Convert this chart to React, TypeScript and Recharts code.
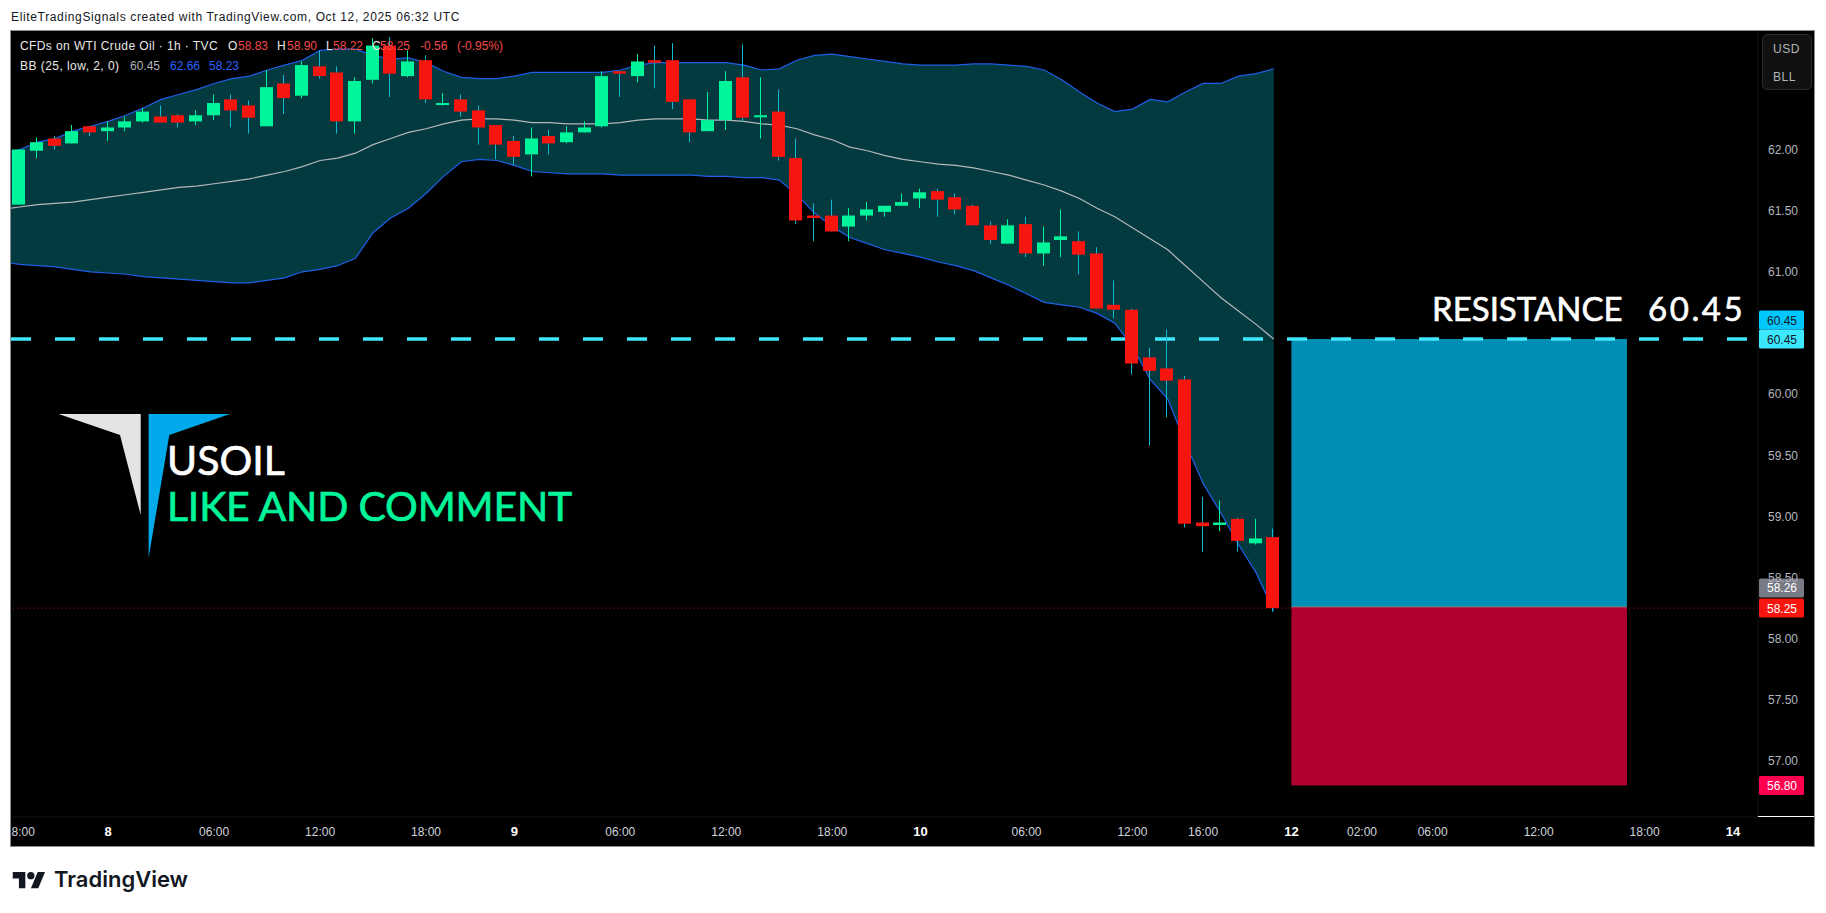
import {
  Area,
  Bar,
  ComposedChart,
  Line,
  ReferenceArea,
  ReferenceDot,
  ReferenceLine,
  XAxis,
  YAxis,
} from 'recharts';

const FONT = '"Liberation Sans", Arial, sans-serif';
const POSTER_FONT = 'Lato, "Noto Sans", sans-serif';

const opens = [
  61.55, 61.99, 62.09, 62.05, 62.19, 62.15, 62.18, 62.23, 62.27, 62.28, 62.23, 62.28,
  62.41, 62.36, 62.19, 62.54, 62.44, 62.68, 62.63, 62.23, 62.57, 62.85, 62.6, 62.73,
  62.37, 62.41, 62.32, 62.2, 62.07, 61.96, 62.11, 62.06, 62.14, 62.19, 62.64, 62.6,
  62.73, 62.73, 62.41, 62.15, 62.24, 62.59, 62.27, 62.31, 61.93, 61.46, 61.46, 61.37,
  61.46, 61.49, 61.54, 61.6, 61.66, 61.61, 61.54, 61.38, 61.23, 61.39, 61.15, 61.26,
  61.25, 61.15, 60.73, 60.69, 60.3, 60.21, 60.12, 58.95, 58.93, 58.98, 58.78, 58.83,
];
const closes = [
  62.0, 62.06, 62.03, 62.15, 62.14, 62.18, 62.23, 62.31, 62.22, 62.22, 62.28, 62.38,
  62.32, 62.26, 62.51, 62.42, 62.69, 62.6, 62.23, 62.56, 62.85, 62.62, 62.72, 62.41,
  62.38, 62.31, 62.18, 62.04, 61.94, 62.09, 62.05, 62.14, 62.18, 62.6, 62.62, 62.72,
  62.71, 62.39, 62.14, 62.24, 62.56, 62.26, 62.28, 61.94, 61.42, 61.44, 61.33, 61.46,
  61.51, 61.54, 61.57, 61.65, 61.59, 61.51, 61.38, 61.26, 61.38, 61.15, 61.24, 61.29,
  61.14, 60.7, 60.69, 60.25, 60.19, 60.11, 58.94, 58.92, 58.95, 58.8, 58.82, 58.25,
];
const highs = [
  62.0, 62.1, 62.11, 62.2, 62.19, 62.23, 62.27, 62.34, 62.36, 62.29, 62.32, 62.45,
  62.45, 62.4, 62.65, 62.61, 62.72, 62.81, 62.68, 62.59, 62.91, 62.92, 62.81, 62.77,
  62.46, 62.45, 62.36, 62.2, 62.11, 62.18, 62.16, 62.19, 62.23, 62.64, 62.64, 62.78,
  62.85, 62.87, 62.41, 62.47, 62.64, 62.86, 62.59, 62.49, 62.09, 61.56, 61.59, 61.52,
  61.57, 61.54, 61.64, 61.68, 61.68, 61.64, 61.55, 61.41, 61.43, 61.45, 61.37, 61.51,
  61.33, 61.2, 60.93, 60.7, 60.38, 60.53, 60.15, 59.16, 59.13, 58.99, 58.98, 58.9,
];
const lows = [
  61.55, 61.93, 62.0, 62.05, 62.11, 62.07, 62.15, 62.22, 62.22, 62.18, 62.2, 62.24,
  62.18, 62.13, 62.23, 62.29, 62.42, 62.58, 62.13, 62.13, 62.54, 62.43, 62.59, 62.38,
  62.36, 62.27, 62.04, 61.92, 61.87, 61.78, 61.96, 62.05, 62.14, 62.18, 62.43, 62.55,
  62.5, 62.33, 62.06, 62.15, 62.16, 62.23, 62.09, 61.91, 61.39, 61.25, 61.33, 61.25,
  61.42, 61.45, 61.54, 61.52, 61.45, 61.47, 61.38, 61.23, 61.23, 61.12, 61.05, 61.12,
  60.98, 60.7, 60.62, 60.16, 59.58, 59.81, 58.91, 58.71, 58.88, 58.71, 58.77, 58.22,
];

// first value of each band sits on the left edge of the plot, half a bar before the first candle
const bandPositions = [-0.5, ...opens.map((_, i) => i)];
const upperBand = [
  61.98, 62.0, 62.06, 62.09, 62.15, 62.19, 62.23, 62.28, 62.34, 62.41, 62.45, 62.49, 62.54,
  62.58, 62.6, 62.65, 62.69, 62.73, 62.81, 62.82, 62.82, 62.77, 62.74, 62.75, 62.71, 62.64,
  62.59, 62.58, 62.58, 62.6, 62.63, 62.63, 62.63, 62.63, 62.63, 62.65, 62.69, 62.71, 62.71,
  62.71, 62.71, 62.71, 62.69, 62.65, 62.66, 62.73, 62.77, 62.78, 62.76, 62.74, 62.72, 62.7,
  62.69, 62.69, 62.69, 62.7, 62.7, 62.69, 62.68, 62.65, 62.57, 62.47, 62.38, 62.31, 62.33,
  62.41, 62.39, 62.47, 62.54, 62.54, 62.6, 62.62, 62.66,
];
const basisBand = [
  61.52, 61.53, 61.55, 61.56, 61.57, 61.59, 61.61, 61.63, 61.65, 61.67, 61.69, 61.7, 61.72,
  61.74, 61.76, 61.79, 61.82, 61.86, 61.91, 61.93, 61.97, 62.04, 62.09, 62.14, 62.17, 62.21,
  62.24, 62.25, 62.25, 62.24, 62.22, 62.22, 62.21, 62.21, 62.21, 62.22, 62.24, 62.25, 62.25,
  62.25, 62.24, 62.24, 62.23, 62.21, 62.2, 62.17, 62.12, 62.08, 62.02, 61.99, 61.95, 61.92,
  61.9, 61.88, 61.87, 61.85, 61.82, 61.79, 61.75, 61.71, 61.66, 61.6, 61.52, 61.45, 61.36,
  61.27, 61.18, 61.05, 60.92, 60.79, 60.68, 60.57, 60.45,
];
const lowerBand = [
  61.07, 61.06, 61.05, 61.04, 61.02, 61.0, 60.99, 60.98, 60.96, 60.95, 60.94, 60.93, 60.92,
  60.91, 60.91, 60.93, 60.95, 61.0, 61.02, 61.05, 61.11, 61.32, 61.44, 61.52, 61.64, 61.78,
  61.9, 61.92, 61.91, 61.87, 61.82, 61.81, 61.8, 61.8, 61.8, 61.79, 61.79, 61.79, 61.79,
  61.79, 61.78, 61.78, 61.77, 61.77, 61.75, 61.63, 61.48, 61.37, 61.28, 61.23, 61.18, 61.15,
  61.12, 61.08, 61.05, 61.01, 60.95, 60.89, 60.82, 60.75, 60.73, 60.71, 60.66, 60.58, 60.39,
  60.12, 59.96, 59.6, 59.27, 59.03, 58.77, 58.54, 58.23,
];

// 60.50 is hidden behind the two price tags in the original
const priceTicks = [57, 57.5, 58, 58.5, 59, 59.5, 60, 61, 61.5, 62];
const timeTicks = [0, 5, 11, 17, 23, 28, 34, 40, 46, 51, 57, 63, 67, 72, 76, 80, 86, 92, 97];
const timeLabels = [
  '18:00', '8', '06:00', '12:00', '18:00', '9', '06:00', '12:00', '18:00', '10', '06:00',
  '12:00', '16:00', '12', '02:00', '06:00', '12:00', '18:00', '14',
];
const dayLabels = ['8', '9', '10', '12', '14'];
const axisStart = -0.5;
const axisEnd = 98.42;

const entryPrice = 60.45;
const splitPrice = 58.26;
const stopPrice = 56.8;
const lastPrice = 58.25;
const boxStart = 72;
const boxEnd = 91;

const tagPrices = [60.45, 60.45, 58.26, 58.25, 56.8];
const tagColors = ['#00c8ff', '#3de8ff', '#787b86', '#f7150f', '#ff0050'];
const tagInk = ['#131722', '#131722', '#ffffff', '#ffffff', '#ffffff'];
const tagNudge = [-19, 0, -19, 0, 0];

const QUOTE_RED = '#f44a4a';
const quoteParts = [
  { text: 'O', left: 228, color: '#e8e8e8' },
  { text: '58.83', left: 238, color: QUOTE_RED },
  { text: 'H', left: 277, color: '#e8e8e8' },
  { text: '58.90', left: 287, color: QUOTE_RED },
  { text: 'L', left: 326, color: '#e8e8e8' },
  { text: '58.22', left: 333, color: QUOTE_RED },
  { text: 'C', left: 372, color: '#e8e8e8' },
  { text: '58.25', left: 380, color: QUOTE_RED },
  { text: '-0.56', left: 420, color: QUOTE_RED },
  { text: '(-0.95%)', left: 457, color: QUOTE_RED },
];
const bbParts = [
  { text: 'BB (25, low, 2, 0)', left: 20, color: '#e8e8e8', spacing: 0.45 },
  { text: '60.45', left: 130, color: '#b2b5be', spacing: 0 },
  { text: '62.66', left: 170, color: '#2962ff', spacing: 0 },
  { text: '58.23', left: 209, color: '#2962ff', spacing: 0 },
];

const UP = '#00f59a';
const DOWN = '#f7150f';
const UP_WICK = '#00f59a';
const DOWN_WICK = '#12b8d0';
const BLUE_LINE = '#1f5fe6';

const chartData = bandPositions.map((pos, i) => {
  const c = i - 1;
  return {
    pos,
    band: [lowerBand[i], upperBand[i]],
    upper: upperBand[i],
    basis: basisBand[i],
    lower: lowerBand[i],
    range: c >= 0 ? [lows[c], highs[c]] : null,
    open: c >= 0 ? opens[c] : null,
    close: c >= 0 ? closes[c] : null,
  };
});

function Candle(props: any) {
  const { x, y, width, height, payload } = props;
  if (!payload || !payload.range) return null;
  const [low, high] = payload.range;
  const perUnit = height / (high - low);
  const top = y + (high - Math.max(payload.open, payload.close)) * perUnit;
  const bodyH = Math.max(Math.abs(payload.open - payload.close) * perUnit, 2);
  const up = payload.close >= payload.open;
  const mid = Math.round(x + width / 2) - 0.5;
  return (
    <g>
      <line x1={mid} x2={mid} y1={y} y2={y + height} stroke={up ? UP_WICK : DOWN_WICK} strokeWidth={1} />
      <rect x={mid - 6.5} y={top} width={13} height={bodyH} fill={up ? UP : DOWN} />
    </g>
  );
}

function TimeTick(props: any) {
  const { x, y, payload } = props;
  const label = timeLabels[timeTicks.indexOf(payload.value)];
  const isDay = dayLabels.includes(label);
  return (
    <text
      x={x}
      y={y}
      dy={4}
      textAnchor="middle"
      fontFamily={FONT}
      fontSize={isDay ? 13 : 12}
      fontWeight={isDay ? 700 : 400}
      fill={isDay ? '#ffffff' : '#d1d4dc'}
    >
      {label}
    </text>
  );
}

function PriceTag(index: number) {
  return (props: any) => {
    const cy = props.cy + tagNudge[index];
    return (
      <g>
        <rect x={props.cx + 1} y={cy - 9.5} width={45} height={19} rx={1.5} fill={tagColors[index]} />
        <text
          x={props.cx + 24}
          y={cy + 4.5}
          textAnchor="middle"
          fontFamily={FONT}
          fontSize={12}
          fill={tagInk[index]}
        >
          {tagPrices[index].toFixed(2)}
        </text>
      </g>
    );
  };
}

function Label(props: { left: number; top: number; size?: number; color?: string; family?: string; weight?: number; spacing?: number; outline?: number; children: React.ReactNode }) {
  const { left, top, size = 12, color = '#e8e8e8', family = FONT, weight = 400, spacing = 0, outline = 0, children } = props;
  return (
    <div
      style={{
        position: 'absolute',
        left,
        top,
        fontSize: size,
        lineHeight: 1,
        color,
        fontFamily: family,
        fontWeight: weight,
        letterSpacing: spacing,
        whiteSpace: 'pre',
        WebkitTextStroke: outline ? `${outline}px ${color}` : undefined,
      }}
    >
      {children}
    </div>
  );
}

export default function App() {
  return (
    <div style={{ position: 'absolute', left: 0, top: 0, width: 1826, height: 913, background: '#ffffff', overflow: 'hidden' }}>
      <Label left={11} top={11} size={12} color="#131722" spacing={0.65}>
        EliteTradingSignals created with TradingView.com, Oct 12, 2025 06:32 UTC
      </Label>

      <div style={{ position: 'absolute', left: 10, top: 30, width: 1804, height: 816, background: '#000000' }} />

      <div style={{ position: 'absolute', left: 0, top: 0 }}>
        <ComposedChart
          width={1826}
          height={913}
          data={chartData}
          margin={{ top: 31, right: 12, bottom: 67, left: 11 }}
        >
          <XAxis
            dataKey="pos"
            type="number"
            domain={[axisStart, axisEnd]}
            allowDataOverflow
            ticks={timeTicks}
            interval={0}
            height={29}
            tickLine={false}
            tickSize={0}
            tickMargin={15}
            axisLine={{ stroke: '#151515' }}
            tick={<TimeTick />}
          />
          <YAxis
            orientation="right"
            type="number"
            domain={[56.542, 62.969]}
            allowDataOverflow
            ticks={priceTicks}
            interval={0}
            width={56}
            tickLine={false}
            tickSize={0}
            tickMargin={10}
            axisLine={{ stroke: '#151515' }}
            tickFormatter={(v: number) => v.toFixed(2)}
            tick={{ fill: '#b2b5be', fontSize: 12, fontFamily: FONT, textAnchor: 'start' }}
          />

          <ReferenceArea x1={boxStart} x2={boxEnd} y1={splitPrice} y2={entryPrice} fill="#008fb4" fillOpacity={1} stroke="none" />
          <ReferenceArea x1={boxStart} x2={boxEnd} y1={stopPrice} y2={splitPrice} fill="#b0002f" fillOpacity={1} stroke="none" />
          <ReferenceLine segment={[{ x: boxStart, y: splitPrice }, { x: boxEnd, y: splitPrice }]} stroke="#808080" strokeWidth={1} />
          <ReferenceLine
            segment={[{ x: axisStart, y: entryPrice }, { x: axisEnd, y: entryPrice }]}
            stroke="#3ee6ff"
            strokeWidth={3.5}
            strokeDasharray="20 24"
          />
          <ReferenceLine y={lastPrice} stroke="#f7150f" strokeWidth={1} strokeDasharray="1 3" strokeOpacity={0.8} />

          <Area
            dataKey="band"
            type="linear"
            stroke="none"
            fill="#0ce8ff"
            fillOpacity={0.25}
            isAnimationActive={false}
            dot={false}
            activeDot={false}
          />
          <Line dataKey="upper" type="linear" stroke={BLUE_LINE} strokeWidth={1.2} dot={false} activeDot={false} isAnimationActive={false} />
          <Line dataKey="lower" type="linear" stroke={BLUE_LINE} strokeWidth={1.2} dot={false} activeDot={false} isAnimationActive={false} />
          <Line dataKey="basis" type="linear" stroke="#b4b8b8" strokeWidth={1.2} dot={false} activeDot={false} isAnimationActive={false} />
          <Bar dataKey="range" barSize={13} shape={Candle} isAnimationActive={false} zIndex={450} />

          {tagPrices.map((price, i) => (
            <ReferenceDot
              key={i}
              x={axisEnd}
              y={price}
              r={1}
              shape={PriceTag(i)}
              zIndex={900}
            />
          ))}
        </ComposedChart>
      </div>

      {/* left of the frame the cut off 18:00 label disappears under the page */}
      <div style={{ position: 'absolute', left: 0, top: 30, width: 10, height: 817, background: '#ffffff' }} />
      <div style={{ position: 'absolute', left: 10, top: 30, width: 1803, height: 815, border: '1px solid #8a8a8a', pointerEvents: 'none' }} />
      <div style={{ position: 'absolute', left: 1758, top: 816, width: 56, height: 1, background: '#ffffff' }} />

      <div style={{ position: 'absolute', left: 1762, top: 34, width: 48, height: 54, background: '#111111', border: '1px solid #2a2a2a', borderRadius: 5 }} />
      <Label left={1773} top={43} color="#b2b5be" spacing={0.5}>USD</Label>
      <Label left={1773} top={71} color="#b2b5be" spacing={0.5}>BLL</Label>

      <Label left={20} top={40} spacing={0.4}>CFDs on WTI Crude Oil · 1h · TVC</Label>
      {quoteParts.map((p) => (
        <Label key={p.left} left={p.left} top={40} color={p.color}>{p.text}</Label>
      ))}
      {bbParts.map((p) => (
        <Label key={p.left} left={p.left} top={60} color={p.color} spacing={p.spacing}>{p.text}</Label>
      ))}

      <svg style={{ position: 'absolute', left: 0, top: 0 }} width={1826} height={913}>
        <polygon points="58.6,414 140.7,414 140.7,515 120,435" fill="#e4e4e4" />
        <polygon points="148.6,414 230,414 169.3,435 148.6,558" fill="#00aaeb" />
        <svg x={12.5} y={872} width={33} height={16.5} viewBox="0 4 36 18">
          <path d="M14 22H7V11H0V4h14v18zM28 22h-8l7.5-18h8L28 22z" fill="#131722" />
          <circle cx={20} cy={8} r={4} fill="#131722" />
        </svg>
      </svg>

      <Label left={167} top={439} size={41} color="#ffffff" family={POSTER_FONT} outline={0.7}>USOIL</Label>
      <Label left={167} top={485} size={41} color="#00f59a" family={POSTER_FONT} outline={0.7} spacing={-0.2}>LIKE AND COMMENT</Label>
      <Label left={1432} top={292} size={33} color="#ffffff" family={POSTER_FONT} outline={0.6}>RESISTANCE</Label>
      <Label left={1648} top={292} size={33} color="#ffffff" family={POSTER_FONT} outline={0.6} spacing={2.6}>60.45</Label>
      <Label left={54} top={868} size={22} color="#131722" family="Inter, sans-serif" weight={600}>TradingView</Label>
    </div>
  );
}
